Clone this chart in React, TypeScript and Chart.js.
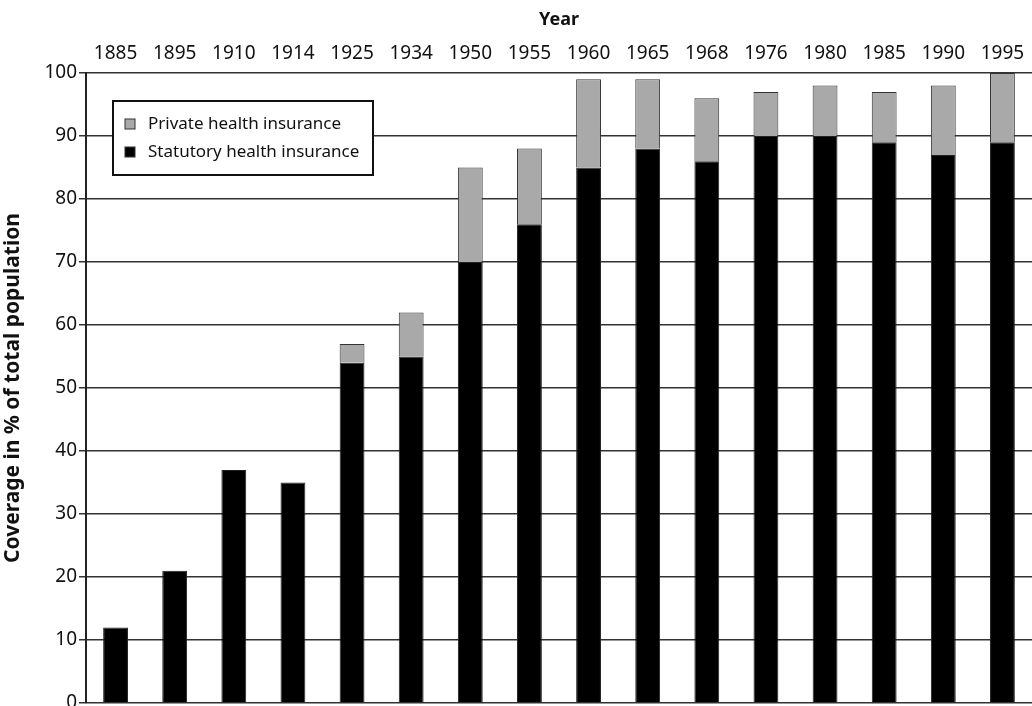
import React, { useEffect, useRef } from "react";
import { Chart, registerables } from "chart.js";

Chart.register(...registerables);

const years = ["1885", "1895", "1910", "1914", "1925", "1934", "1950", "1955", "1960", "1965", "1968", "1976", "1980", "1985", "1990", "1995"];
const statutory = [12, 21, 37, 35, 54, 55, 70, 76, 85, 88, 86, 90, 90, 89, 87, 89];
const privateIns = [0, 0, 0, 0, 3, 7, 15, 12, 14, 11, 10, 7, 8, 8, 11, 11];
const yTicks = [0, 10, 20, 30, 40, 50, 60, 70, 80, 90, 100];

const FONT = "'Noto Sans', 'Open Sans', sans-serif";

const legendPlugin = {
  id: "boxLegend",
  afterDatasetsDraw(chart: any) {
    const ctx = chart.ctx;
    const x = 113, y = 101, w = 260, h = 74;
    ctx.save();
    ctx.fillStyle = "#ffffff";
    ctx.fillRect(x, y, w, h);
    ctx.strokeStyle = "#111";
    ctx.lineWidth = 2;
    ctx.strokeRect(x, y, w, h);
    const items = [...chart.data.datasets].reverse();
    ctx.font = `17px ${FONT}`;
    ctx.textBaseline = "middle";
    items.forEach((ds: any, i: number) => {
      const cy = y + 23 + i * 28;
      ctx.fillStyle = ds.backgroundColor;
      ctx.fillRect(x + 12, cy - 5, 10, 10);
      ctx.strokeStyle = "#333";
      ctx.lineWidth = 1;
      ctx.strokeRect(x + 12, cy - 5, 10, 10);
      ctx.fillStyle = "#111";
      ctx.fillText(ds.label, x + 35, cy);
    });
    ctx.restore();
  },
};

export default function App() {
  const ref = useRef<HTMLCanvasElement>(null);
  useEffect(() => {
    const chart = new Chart(ref.current!, {
      type: "bar",
      data: {
        labels: years,
        datasets: [
          {
            label: "Statutory health insurance",
            data: statutory,
            backgroundColor: "#000000",
            borderColor: "#222",
            borderWidth: 1,
          },
          {
            label: "Private health insurance",
            data: privateIns,
            backgroundColor: "#a9a9a9",
            borderColor: "#333",
            borderWidth: 1,
          },
        ],
      },
      options: {
        animation: false,
        responsive: false,
        maintainAspectRatio: false,
        datasets: { bar: { categoryPercentage: 1, barPercentage: 0.42 } },
        layout: { padding: { top: 0, bottom: 3, right: 0, left: 0 } },
        plugins: { legend: { display: false }, tooltip: { enabled: false } },
        scales: {
          x: {
            position: "top",
            stacked: true,
            grid: { display: false },
            border: { display: false },
            ticks: { color: "#111", font: { family: FONT, size: 19 }, padding: 0, maxRotation: 0 },
            title: { display: true, text: "Year", color: "#111", font: { family: FONT, size: 18, weight: "bold" }, padding: { top: 9, bottom: 8 } },
            afterFit: (s: any) => { s.height = 73; },
          },
          y: {
            stacked: true,
            min: 0,
            max: 100,
            afterBuildTicks: (s: any) => { s.ticks = yTicks.map((v) => ({ value: v })); },
            grid: { color: "#333", lineWidth: 1.5, tickLength: 7, tickColor: "#333" },
            border: { display: true, color: "#222", width: 2 },
            ticks: { color: "#111", font: { family: FONT, size: 19 }, padding: 2 },
            title: { display: true, text: "Coverage in % of total population", color: "#111", font: { family: FONT, size: 21, weight: "bold" }, padding: { top: 0, bottom: 5 } },
            afterFit: (s: any) => { s.width = 86; s.paddingBottom = 0; s.paddingTop = 0; },
          },
        },
      },
      plugins: [legendPlugin],
    });
    return () => chart.destroy();
  }, []);
  return (
    <div style={{ position: "fixed", left: 0, top: 0, width: 1032, height: 706, background: "#fff" }}>
      <canvas ref={ref} width={1032} height={706} style={{ width: 1032, height: 706 }} />
    </div>
  );
}
